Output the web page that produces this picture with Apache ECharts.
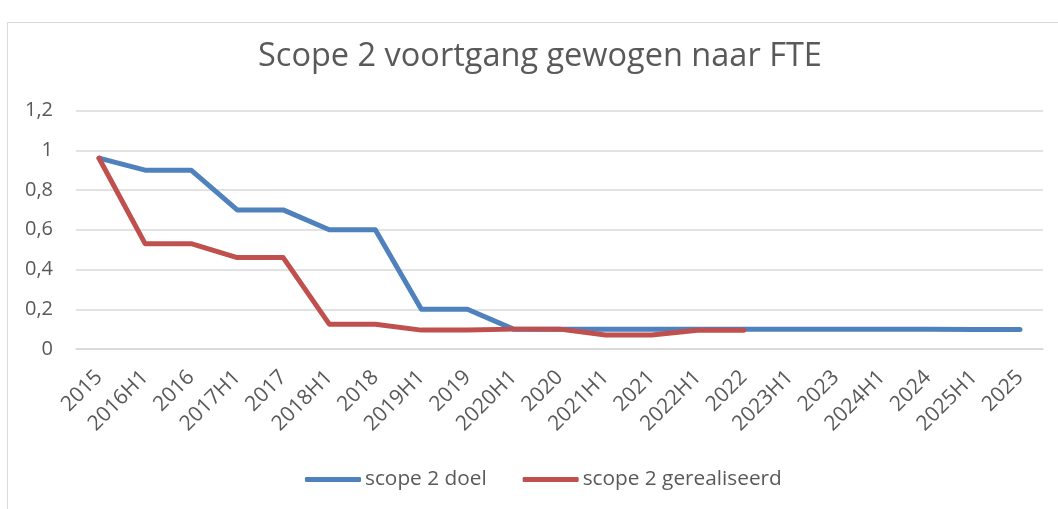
<!DOCTYPE html>
<html>
<head>
<meta charset="utf-8">
<script src="https://cdn.jsdelivr.net/npm/echarts@6/dist/echarts.min.js"></script>
<style>
  html, body { margin: 0; padding: 0; background: #fff; }
  #chart { width: 1058px; height: 509px; }
</style>
</head>
<body>
<div id="chart"></div>
<script>
// categorieen (halfjaar en jaar)
const periods = ["2015", "2016H1", "2016", "2017H1", "2017", "2018H1", "2018", "2019H1", "2019",
  "2020H1", "2020", "2021H1", "2021", "2022H1", "2022", "2023H1", "2023", "2024H1", "2024",
  "2025H1", "2025"];

// scope 2 doel
const doel = [0.96, 0.9, 0.9, 0.7, 0.7, 0.6, 0.6, 0.2, 0.2,
  0.1, 0.1, 0.1, 0.1, 0.1, 0.1, 0.1, 0.1, 0.1, 0.1,
  0.098, 0.098];

// scope 2 gerealiseerd (tot en met 2022)
const gerealiseerd = [0.96, 0.53, 0.53, 0.46, 0.46, 0.125, 0.125, 0.095, 0.095,
  0.1, 0.1, 0.07, 0.07, 0.094, 0.094];

const yTicks = [0, 0.2, 0.4, 0.6, 0.8, 1, 1.2];

const textColor = "#595959";
const fontName = "'Open Sans', sans-serif";

const chart = echarts.init(document.getElementById("chart"));

chart.setOption({
  animation: false,
  textStyle: { fontFamily: fontName },
  graphic: [
    {
      type: "rect",
      shape: { x: 7.5, y: 22.5, width: 1100, height: 600 },
      style: { fill: "none", stroke: "#D9D9D9", lineWidth: 1 },
      silent: true
    }
  ],
  title: {
    text: "Scope 2 voortgang gewogen naar FTE",
    left: 253,
    top: 35,
    textStyle: { color: textColor, fontSize: 32.5, fontWeight: "normal", fontFamily: fontName }
  },
  legend: {
    top: 464,
    left: 300,
    itemWidth: 56,
    itemHeight: 5,
    itemGap: 36,
    icon: "roundRect",
    textStyle: { color: textColor, fontSize: 20.8, padding: [0, 0, 0, -1] },
    data: ["scope 2 doel", "scope 2 gerealiseerd"]
  },
  grid: { left: 76, right: 15, top: 110.5, bottom: 160, containLabel: false },
  xAxis: {
    type: "category",
    data: periods,
    boundaryGap: true,
    axisLine: { show: true, lineStyle: { color: "#D9D9D9", width: 1.5 } },
    axisTick: { show: false },
    axisLabel: { rotate: 45, margin: 25, color: textColor, fontSize: 21, interval: 0 }
  },
  yAxis: {
    type: "value",
    min: 0,
    max: 1.2,
    interval: 0.2,
    axisLine: { show: false },
    axisTick: { show: false },
    splitLine: { lineStyle: { color: "#D9D9D9", width: 1.5 } },
    axisLabel: {
      margin: 23,
      color: textColor,
      fontSize: 20,
      formatter: v => {
        const t = yTicks.find(x => Math.abs(x - v) < 1e-9);
        return String(t !== undefined ? t : v).replace(".", ",");
      }
    }
  },
  series: [
    {
      name: "scope 2 doel",
      type: "line",
      data: doel,
      showSymbol: false,
      symbol: "none",
      lineStyle: { color: "#4F81BD", width: 5, cap: "round", join: "round" },
      itemStyle: { color: "#4F81BD" }
    },
    {
      name: "scope 2 gerealiseerd",
      type: "line",
      data: gerealiseerd,
      showSymbol: false,
      symbol: "none",
      lineStyle: { color: "#C0504D", width: 5, cap: "round", join: "round" },
      itemStyle: { color: "#C0504D" }
    }
  ]
});
</script>
</body>
</html>
